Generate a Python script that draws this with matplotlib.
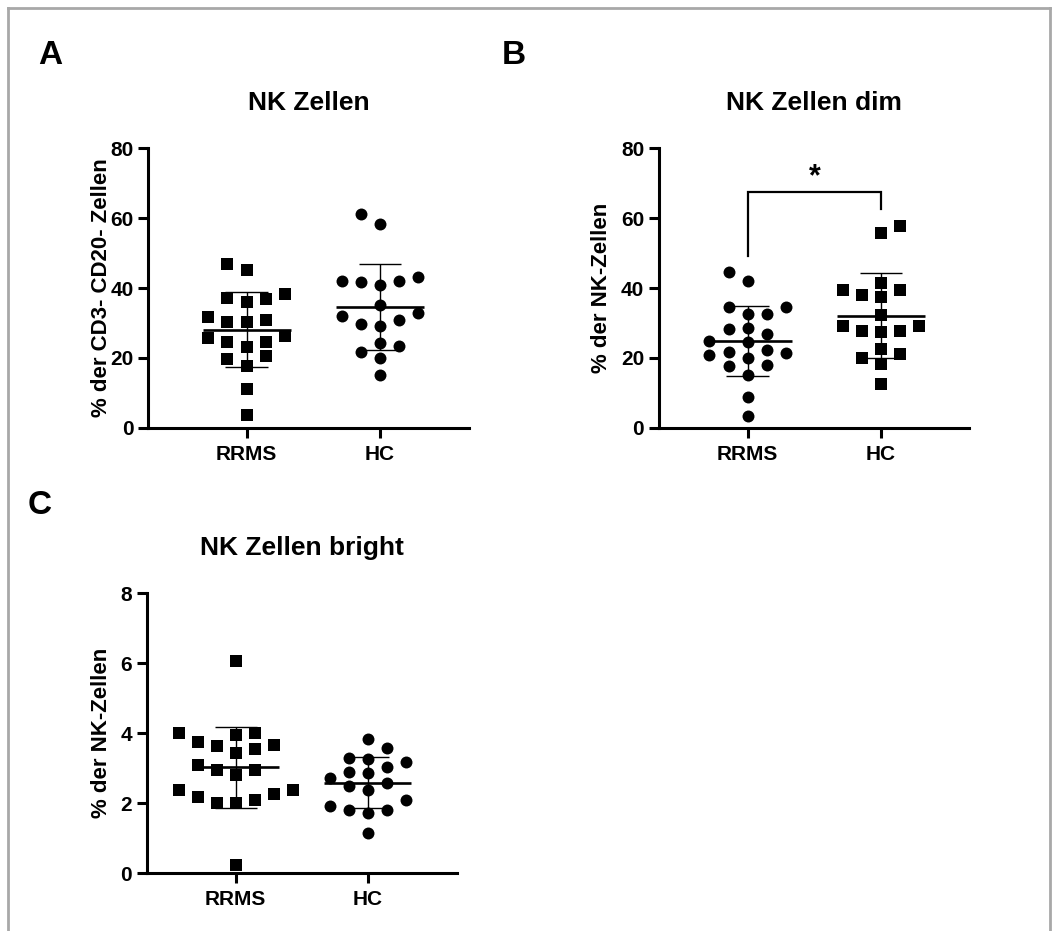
import numpy as np
import matplotlib
matplotlib.use("Agg")
import matplotlib.pyplot as plt
from matplotlib.lines import Line2D

plt.rcParams["font.family"] = ["Liberation Sans", "DejaVu Sans"]
plt.rcParams["font.weight"] = "bold"

groups = ["RRMS", "HC"]

# A: NK Zellen, % der CD3- CD20- Zellen
nk_rrms = [45.2, 46.9, 38.3, 36.1, 37.0, 36.8, 30.2, 30.8, 31.8, 30.4,
           24.4, 24.4, 23.2, 25.6, 26.3, 20.5, 19.7, 17.7, 11.1, 3.6]
nk_hc = [61.1, 58.3, 42.0, 43.2, 40.9, 42.1, 41.6, 35.1, 32.1, 30.8,
         29.1, 29.6, 32.8, 23.4, 24.2, 21.8, 20.0, 15.1]

# B: NK Zellen dim, % der NK-Zellen
dim_rrms = [44.5, 42.0, 34.6, 34.5, 32.5, 32.5, 28.2, 28.6, 26.7, 24.8, 24.6,
            20.8, 21.3, 19.9, 21.8, 22.2, 18.0, 17.8, 15.1, 8.9, 3.4]
dim_hc = [57.8, 55.8, 39.4, 41.3, 38.0, 37.3, 39.4, 32.3, 29.1, 29.2,
          27.5, 27.8, 27.8, 21.1, 22.4, 18.1, 19.9, 12.4]
dim_bracket = [67.4, 49.2, 62.6]  # bar height, left foot, right foot

# C: NK Zellen bright, % der NK-Zellen
bright_rrms = [6.08, 3.95, 4.0, 4.0, 3.74, 3.67, 3.65, 3.55, 3.45, 3.10, 2.95,
               2.81, 2.95, 2.38, 2.38, 2.19, 2.27, 2.08, 2.02, 2.02, 0.24]
bright_hc = [3.84, 3.57, 3.27, 3.29, 3.19, 3.05, 2.89, 2.87, 2.71, 2.57,
             2.50, 2.38, 2.09, 1.93, 1.81, 1.73, 1.81, 1.16]

FIG_W, FIG_H = 1057, 931


def swarm_offsets(values, units_per_px, step=0.072, gap_px=13):
    # greedy placement on a half-column grid, like a beeswarm
    values = np.asarray(values, float)
    min_dy = gap_px * units_per_px
    placed = []
    offsets = np.zeros(len(values))
    side = {-1: 0, 1: 0}
    for i in np.argsort(values, kind="stable"):
        v = values[i]
        chosen = None
        for m in range(40):
            if m == 0:
                cands = [0]
            else:
                first = -1 if side[-1] <= side[1] else 1
                cands = [first * m, -first * m]
            for k in cands:
                if all(abs(k - pk) > 1 or abs(v - pv) >= min_dy for pv, pk in placed):
                    chosen = k
                    break
            if chosen is not None:
                break
        placed.append((v, chosen))
        if chosen != 0:
            side[int(np.sign(chosen))] += 1
        offsets[i] = chosen * step
    return offsets


def draw_panel(fig, rect, xlim, ymax, rrms, hc, markers, title, ylabel, label_x):
    ax = fig.add_axes(rect)
    ax.set_xlim(*xlim)
    ax.set_ylim(0, ymax)
    units_per_px = ymax / (rect[3] * FIG_H)

    for pos, (vals, mk) in enumerate(zip([rrms, hc], markers)):
        vals = np.asarray(vals)
        xs = pos + swarm_offsets(vals, units_per_px)
        ms = 8.0 if mk == "s" else 8.6
        ax.plot(xs, vals, linestyle="none", marker=mk, ms=ms, color="black",
                markeredgewidth=0, clip_on=False, zorder=3)
        mean = vals.mean()
        sd = vals.std(ddof=1)
        ax.hlines(mean, pos - 0.33, pos + 0.33, color="black", lw=1.9, zorder=4)
        ax.vlines(pos, mean - sd, mean + sd, color="black", lw=1.0, zorder=4)
        ax.hlines([mean - sd, mean + sd], pos - 0.16, pos + 0.16,
                  color="black", lw=1.0, zorder=4)

    for side in ["top", "right"]:
        ax.spines[side].set_visible(False)
    for side in ["left", "bottom"]:
        ax.spines[side].set_linewidth(2.2)
    ax.tick_params(direction="out", length=7.2, width=2.2, labelsize=15, pad=3.5)
    ax.tick_params(axis="x", pad=5)
    ax.set_xticks([0, 1])
    ax.set_xticklabels(groups, fontweight="bold")
    ticks = np.linspace(0, ymax, 5)
    ax.set_yticks(ticks)
    ax.set_yticklabels([f"{t:g}" for t in ticks], fontweight="bold")
    ax.set_title(title, fontsize=19, fontweight="bold", pad=27.5)
    ax.set_ylabel(ylabel, fontsize=16, fontweight="bold", va="center")
    ax.yaxis.set_label_coords(label_x, 0.5)
    return ax


fig = plt.figure(figsize=(FIG_W / 100, FIG_H / 100), dpi=100)

draw_panel(fig, [0.1403, 0.5406, 0.3034, 0.3001], (-0.738, 1.668), 80,
           nk_rrms, nk_hc, ["s", "o"], "NK Zellen", "% der CD3- CD20- Zellen", -0.145)

ax_b = draw_panel(fig, [0.6235, 0.5406, 0.2933, 0.3001], (-0.665, 1.66), 80,
                  dim_rrms, dim_hc, ["o", "s"], "NK Zellen dim", "% der NK-Zellen", -0.185)
top, left_foot, right_foot = dim_bracket
ax_b.plot([0, 0, 1, 1], [left_foot, top, top, right_foot], color="black",
          lw=1.6, solid_joinstyle="miter", clip_on=False)
ax_b.text(0.5, 71.6, "*", ha="center", va="center", fontsize=22, fontweight="bold")

draw_panel(fig, [0.1388, 0.0620, 0.2936, 0.3007], (-0.674, 1.677), 8,
           bright_rrms, bright_hc, ["s", "o"], "NK Zellen bright", "% der NK-Zellen", -0.145)

# panel letters
for letter, x, y in [("A", 50, 64), ("B", 514, 63.5), ("C", 40, 514)]:
    fig.text(x / FIG_W, 1 - y / FIG_H, letter, ha="center", va="baseline",
             fontsize=24, fontweight="bold")

# grey frame around the figure
frame_kw = dict(transform=fig.transFigure, color="#a8a8a8", lw=2)
fig.add_artist(Line2D([8 / FIG_W, 1050 / FIG_W], [1 - 8 / FIG_H] * 2, **frame_kw))
fig.add_artist(Line2D([8 / FIG_W] * 2, [0, 1 - 8 / FIG_H], **frame_kw))
fig.add_artist(Line2D([1050 / FIG_W] * 2, [0, 1 - 8 / FIG_H], **frame_kw))

fig.savefig("out.png", dpi=100)
